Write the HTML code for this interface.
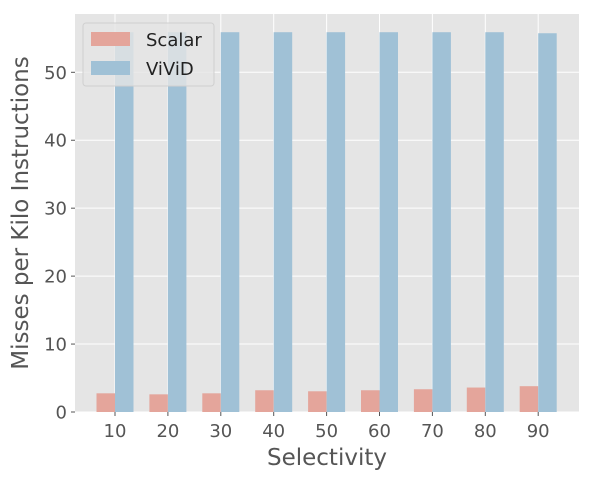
<!DOCTYPE html>
<html><head><meta charset="utf-8"><style>
body{margin:0;background:#fff;font-family:"Liberation Sans","DejaVu Sans",sans-serif}
svg text{font-family:"DejaVu Sans","Liberation Sans",sans-serif}
</style></head><body>
<svg id="chart" width="592" height="479"></svg>
<script>
const categories=[10,20,30,40,50,60,70,80,90];
const scalarValues=[2.75,2.6,2.75,3.2,3.05,3.2,3.35,3.6,3.8];
const vividValues=[55.9,55.9,55.9,55.9,55.9,55.9,55.9,55.9,55.75];
const yTicks=[0,10,20,30,40,50];
const L=75,R=579,T=14,B=412;
const x0=115,step=52.9,bw=18.5;
const yScale=v=>B-v*6.794;
const xScale=i=>x0+step*i;
const svg=document.getElementById('chart');
const NS='http://www.w3.org/2000/svg';
function mk(tag,attrs,parent){const e=document.createElementNS(NS,tag);for(const k in attrs)e.setAttribute(k,attrs[k]);(parent||svg).appendChild(e);return e;}
const bg=mk('rect',{x:L,y:T,width:R-L,height:B-T,fill:'#e5e5e5'});


yTicks.forEach(t=>{const y=yScale(t);
 const g=mk('line',{x1:L,x2:R,y1:y,y2:y,stroke:'#fff','stroke-width':1});
 
 
 mk('line',{x1:L-4,x2:L,y1:y,y2:y,stroke:'#555'});
 const tx=mk('text',{x:L-8,y:y+6.5,'text-anchor':'end','font-size':18,fill:'#555'});tx.textContent=t;
 
 
});
categories.forEach((c,i)=>{const x=xScale(i);
 const g=mk('line',{x1:x,x2:x,y1:T,y2:B,stroke:'#fff','stroke-width':1});
 
 
});
categories.forEach((c,i)=>{const x=xScale(i);
 const s=mk('rect',{x:x-bw,y:yScale(scalarValues[i]),width:bw,height:B-yScale(scalarValues[i]),fill:'#e4a59b'});
 
 
 const v=mk('rect',{x:x,y:yScale(vividValues[i]),width:bw,height:B-yScale(vividValues[i]),fill:'#a0c1d6'});
 
 
 mk('line',{x1:x,x2:x,y1:B,y2:B+4,stroke:'#555'});
 const tx=mk('text',{x:x,y:B+25,'text-anchor':'middle','font-size':18,fill:'#555'});tx.textContent=c;
 
 
});
const xl=mk('text',{x:(L+R)/2,y:465,'text-anchor':'middle','font-size':23,fill:'#555'});xl.textContent='Selectivity';


const yl=mk('text',{x:0,y:0,'text-anchor':'middle','font-size':23,fill:'#555',transform:'translate(28,213) rotate(-90)'});yl.textContent='Misses per Kilo Instructions';


const lg=mk('g',{});


mk('rect',{x:83,y:23,width:131,height:63,rx:3,fill:'rgba(229,229,229,0.8)',stroke:'#d0d0d0'},lg);
mk('rect',{x:91,y:32,width:39,height:14,fill:'#e4a59b'},lg);
mk('rect',{x:91,y:61,width:39,height:14,fill:'#a0c1d6'},lg);
const l1=mk('text',{x:146,y:46,'font-size':18,fill:'#222'},lg);l1.textContent='Scalar';


const l2=mk('text',{x:146,y:75,'font-size':18,fill:'#222'},lg);l2.textContent='ViViD';


</script>
</body></html>
